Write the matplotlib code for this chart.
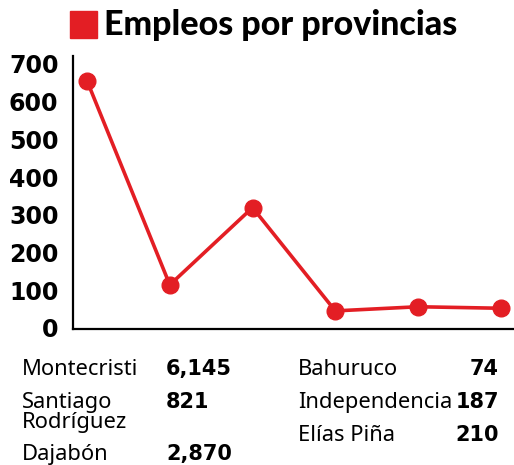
import matplotlib
matplotlib.use("Agg")
import matplotlib.pyplot as plt
from matplotlib.patches import Rectangle

# data
empleos = [655, 114, 319, 45, 56, 52]
yticks = [0, 100, 200, 300, 400, 500, 600, 700]

izq_nombres = ["Montecristi", "Santiago\nRodríguez", "Dajabón"]
izq_valores = ["6,145", "821", "2,870"]
der_nombres = ["Bahuruco", "Independencia", "Elías Piña"]
der_valores = ["74", "187", "210"]

rojo = "#E31E24"
W, H = 514, 465

plt.rcParams['font.family'] = ['Noto Sans', 'DejaVu Sans']
negrita = ['DejaVu Sans']

fig = plt.figure(figsize=(W / 100, H / 100), dpi=100)

def px(x, y):
    return x / W, 1 - y / H

# chart area
ax = fig.add_axes([73 / W, 1 - 329 / H, (514 - 73) / W, (329 - 56) / H])
ax.plot(range(len(empleos)), empleos, color=rojo, lw=2.6, marker="o",
        markersize=12, solid_joinstyle="round", clip_on=False, zorder=3)
ax.set_xlim(-0.17, 5.16)
ax.set_ylim(-3, 721)
ax.set_yticks(yticks)
ax.set_yticklabels([str(t) for t in yticks], fontsize=17, fontweight="bold",
                   family=negrita)
ax.set_xticks([])
ax.tick_params(axis="y", length=0, pad=10.5)
for s in ["top", "right"]:
    ax.spines[s].set_visible(False)
for s in ["left", "bottom"]:
    ax.spines[s].set_linewidth(1.6)

# title with red square
fig.patches.append(Rectangle(px(70, 38), 27 / W, 27 / H, transform=fig.transFigure,
                             color=rojo, figure=fig))
fig.text(*px(104, 35), "Empleos por provincias", fontsize=24.5, fontweight="black",
         family=['Lato', 'DejaVu Sans'], va="baseline", ha="left")

# table below (baselines in px)
base_izq = [375, 408, 460]
for nom, val, y in zip(izq_nombres, izq_valores, base_izq):
    for i, linea in enumerate(nom.split("\n")):
        fig.text(*px(22, y + i * 20), linea, fontsize=15.8, va="baseline", ha="left")
    fig.text(*px(166, y), val, fontsize=15, fontweight="bold", family=negrita,
             va="baseline", ha="left")

base_der = [375, 408, 441]
for nom, val, y in zip(der_nombres, der_valores, base_der):
    fig.text(*px(298, y), nom, fontsize=15.8, va="baseline", ha="left")
    fig.text(*px(499, y), val, fontsize=15, fontweight="bold", family=negrita,
             va="baseline", ha="right")

fig.savefig("out.png", dpi=100)
